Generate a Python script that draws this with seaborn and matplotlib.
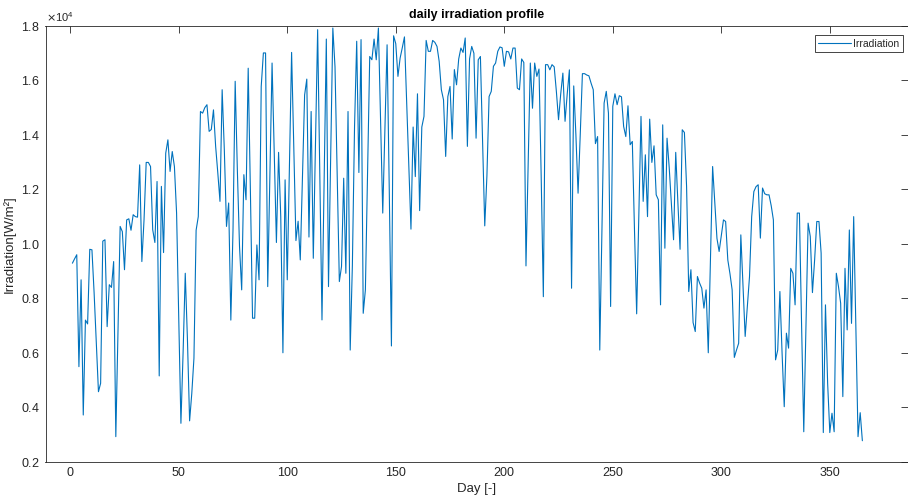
import matplotlib
matplotlib.use("Agg")
import matplotlib.pyplot as plt
import seaborn as sns
import pandas as pd

# Day of year (1..365)
days = list(range(1, 366))

# Daily irradiation sum [W/m²], one value per day
irradiation = [
    9290, 9450, 9600, 5490, 8680, 3715, 7200, 7060, 9800, 9780,
    8200, 6400, 4570, 4880, 10100, 10150, 6960, 8500, 8400, 9350,
    2920, 6800, 10640, 10450, 9050, 10880, 10920, 10500, 11070, 11000,
    10980, 12900, 9350, 10880, 12990, 12990, 12840, 10520, 10050, 12290,
    5150, 12110, 9680, 13330, 13820, 12660, 13390, 12840, 11130, 7300,
    3410, 6000, 8920, 6500, 3500, 4500, 5800, 10500, 11000, 14860,
    14800, 15000, 15110, 14130, 14200, 14920, 13580, 12600, 11560, 15660,
    13450, 10640, 11500, 7200, 10500, 15970, 12720, 9900, 8310, 12540,
    11620, 16450, 12000, 7270, 7270, 9960, 8680, 15780, 17010, 17010,
    8430, 12500, 16640, 13330, 10050, 13360, 11000, 6000, 12350, 8680,
    12800, 17030, 13500, 10120, 10830, 9410, 12500, 15470, 16050, 10250,
    14860, 9470, 13600, 17865, 12500, 7207, 12300, 17520, 8430, 13200,
    17925, 16500, 12500, 8615, 9170, 12410, 8920, 14860, 6100, 9200,
    14300, 17440, 12620, 17500, 7450, 8310, 12500, 16880, 16760, 17520,
    16760, 17925, 14500, 11130, 14200, 17310, 12000, 6250, 17640, 17350,
    16150, 16820, 17200, 17600, 15200, 12900, 10540, 14290, 12470, 15510,
    11220, 14290, 14680, 17470, 17070, 17070, 17470, 17400, 17250, 16700,
    15660, 15290, 13210, 15410, 15780, 13850, 16400, 15840, 16790, 17190,
    17030, 17560, 13580, 16790, 17250, 17000, 13880, 16760, 16880, 13800,
    10660, 12500, 15410, 15600, 16520, 16640, 17070, 17230, 17200, 16520,
    17070, 17050, 16790, 17190, 17190, 15720, 15660, 16790, 16660, 9190,
    13000, 16640, 14980, 16640, 16150, 16420, 12500, 8060, 16580, 16580,
    16390, 16580, 16500, 15600, 14560, 15500, 16270, 14500, 15500, 16390,
    8370, 15800, 14000, 11860, 14000, 16250, 16250, 16200, 16170, 15900,
    15660, 13680, 13940, 6100, 10500, 15170, 15600, 14800, 7700, 15050,
    15510, 15110, 15440, 15400, 14310, 13940, 15070, 13640, 13760, 10500,
    7430, 11000, 14680, 11560, 13270, 11000, 14580, 12990, 13600, 11800,
    11620, 7760, 14370, 9840, 13880, 12800, 11500, 10150, 13360, 11500,
    9800, 14190, 14090, 12110, 8250, 9050, 7110, 6780, 8800, 8560,
    8370, 7640, 8310, 6000, 9500, 12840, 11500, 10200, 9720, 10300,
    10880, 10820, 9410, 8900, 8310, 5830, 6100, 6350, 10330, 8500,
    6600, 7700, 8800, 11000, 11920, 12100, 12170, 10210, 12050, 11840,
    11800, 11800, 11400, 10880, 5740, 6100, 8250, 6000, 4020, 6720,
    6170, 9100, 8920, 7760, 11130, 11130, 7000, 3100, 7000, 10760,
    10270, 8210, 9410, 10820, 10820, 9660, 3070, 7760, 4880, 3070,
    3780, 3100, 8920, 8430, 7820, 4390, 9100, 6840, 10510, 7080,
    11000, 7000, 2920, 3800, 2770,
]

x_ticks = [0, 50, 100, 150, 200, 250, 300, 350]
y_ticks = [2000, 4000, 6000, 8000, 10000, 12000, 14000, 16000, 18000]

sns.set_theme(style="white")
plt.rcParams["font.family"] = ["Liberation Sans", "DejaVu Sans"]

axis_gray = "#262626"
line_blue = "#0072BD"

W, H = 908, 497
ax_left, ax_right, ax_top, ax_bottom = 45.5, 907.5, 26, 461.7

fig = plt.figure(figsize=(W / 100, H / 100), dpi=100)
ax = fig.add_axes([ax_left / W, 1 - ax_bottom / H,
                   (ax_right - ax_left) / W, (ax_bottom - ax_top) / H])

df = pd.DataFrame({"Day": days, "Irradiation": irradiation})
sns.lineplot(data=df, x="Day", y="Irradiation", ax=ax, color=line_blue,
             linewidth=0.8, label="Irradiation")

ax.set_xlim(-11.4, 385.8)
ax.set_ylim(2000, 18000)
ax.set_xticks(x_ticks)
ax.set_yticks(y_ticks)
ax.ticklabel_format(axis="y", style="sci", scilimits=(4, 4), useMathText=True)
ax.yaxis.get_offset_text().set_fontsize(8)
ax.yaxis.get_offset_text().set_color(axis_gray)

ax.tick_params(direction="in", top=True, right=True, length=5, width=0.6,
               colors=axis_gray, labelsize=9, pad=4)
for spine in ax.spines.values():
    spine.set_color(axis_gray)
    spine.set_linewidth(0.6)

ax.set_xlabel("Day [-]", fontsize=9.5, color=axis_gray, labelpad=3)
ax.set_ylabel("Irradiation[W/m²]", fontsize=9.5, color=axis_gray, labelpad=4)
ax.set_title("daily irradiation profile", fontsize=9, fontweight="bold",
             color="black", pad=6)

# legend box anchored just inside the upper-right corner
ax_w = ax_right - ax_left
ax_h = ax_bottom - ax_top
leg = ax.legend(loc="upper right",
                bbox_to_anchor=((903 - ax_left) / ax_w, 1 - (35 - ax_top) / ax_h),
                borderaxespad=0, frameon=True, fancybox=False,
                edgecolor=axis_gray, fontsize=7.5, handlelength=3.1,
                handletextpad=0.25, borderpad=0.35, framealpha=1)
leg.get_frame().set_linewidth(0.6)
for t in leg.get_texts():
    t.set_color(axis_gray)
for h in leg.get_lines():
    h.set_linewidth(0.8)

fig.savefig("out.png", dpi=100)
